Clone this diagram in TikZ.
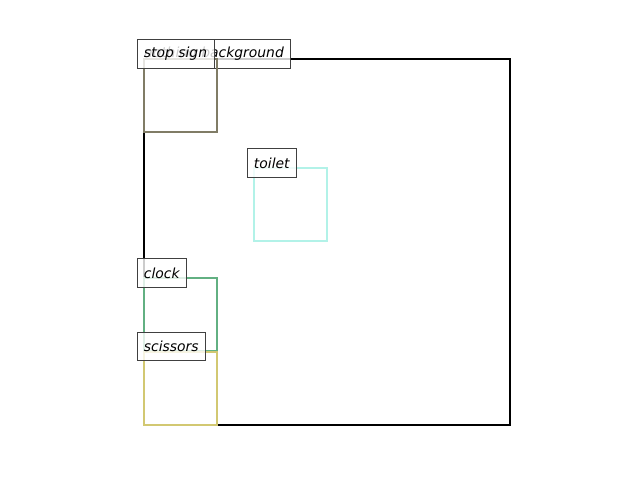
\documentclass[tikz,border=0pt]{standalone}
\usepackage{fontspec}
\setmainfont{DejaVu Sans}
\usepackage{xcolor}
\usepackage{tikz}
\usetikzlibrary{positioning, calc}

\definecolor{stopcol}{RGB}{128,124,102}
\definecolor{toiletcol}{RGB}{178,242,232}
\definecolor{clockcol}{RGB}{98,176,130}
\definecolor{sciscol}{RGB}{210,200,114}
\definecolor{lblcol}{RGB}{64,64,64}

\begin{document}
\begin{tikzpicture}[
    x=0.72pt, y=-0.72pt,
    obj/.style={rectangle, draw=#1, line width=1.44pt, inner sep=0pt, outer sep=0pt, anchor=north west},
    small/.style={minimum width=52.6pt, minimum height=52.6pt},
    lbl/.style={rectangle, draw=lblcol, line width=0.72pt, fill=white, fill opacity=0.8, text opacity=1,
        inner xsep=5pt, inner ysep=0pt, minimum height=20.2pt, outer sep=0pt, anchor=south west,
        font=\fontsize{10pt}{12pt}\selectfont\itshape}
]
\useasboundingbox (0,0) rectangle (640,480);

% Background
\node[obj=black, minimum width=263.5pt, minimum height=263.5pt] (bg) at (144,59) {};
\node[lbl] (bglbl) at ($(bg.north west)+(-7,9)$) {nothing background};

% Stop sign
\node[obj=stopcol, small] (stop) at (144,59) {};
\node[lbl] (stoplbl) at ($(stop.north west)+(-7,9)$) {stop sign};

% Toilet
\node[obj=toiletcol, small] (toilet) at (254,168) {};
\node[lbl] (toiletlbl) at ($(toilet.north west)+(-7,9)$) {toilet};

% Clock
\node[obj=clockcol, small] (clock) at (144,278) {};
\node[lbl] (clocklbl) at ($(clock.north west)+(-7,9)$) {clock};

% Scissors
\node[obj=sciscol, small] (scissors) at (144,351.5) {};
\node[lbl] (scissorslbl) at ($(scissors.north west)+(-7,9)$) {scissors};

\end{tikzpicture}
\end{document}
